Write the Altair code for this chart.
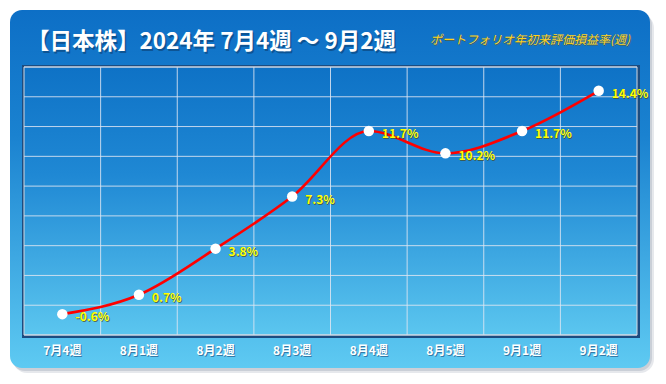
import altair as alt
import pandas as pd

# ---- data ----
categories = ["7月4週", "8月1週", "8月2週", "8月3週", "8月4週", "8月5週", "9月1週", "9月2週"]
values = [-0.6, 0.7, 3.8, 7.3, 11.7, 10.2, 11.7, 14.4]
labels = ["-0.6%", "0.7%", "3.8%", "7.3%", "11.7%", "10.2%", "11.7%", "14.4%"]
y_grid = [-2, 0, 2, 4, 6, 8, 10, 12, 14, 16]
x_grid = [0.5, 1.5, 2.5, 3.5, 4.5, 5.5, 6.5]
title_text = "【日本株】2024年 7月4週 ～ 9月2週"
subtitle_text = "ポートフォリオ年初来評価損益率(週)"

W, H = 613, 268
FONT = "Noto Sans CJK JP"

df = pd.DataFrame({"idx": list(range(len(categories))), "cat": categories,
                   "val": values, "lab": labels})
one = pd.DataFrame({"a": [0]})

xs = alt.Scale(domain=[-0.5, 7.5], nice=False, zero=False)
ys = alt.Scale(domain=[-2, 16], nice=False, zero=False)

card_grad = alt.Gradient(gradient="linear", x1=0, x2=0, y1=0, y2=1,
                         stops=[alt.GradientStop(color="#0d6fc6", offset=0),
                                alt.GradientStop(color="#1a82d0", offset=0.35),
                                alt.GradientStop(color="#5ecaf2", offset=1)])
plot_grad = alt.Gradient(gradient="linear", x1=0, x2=0, y1=0, y2=1,
                         stops=[alt.GradientStop(color="#0e72c6", offset=0),
                                alt.GradientStop(color="#1f88d4", offset=0.4),
                                alt.GradientStop(color="#5bc6ef", offset=1)])

def box(x, x2, y, y2, **kw):
    return alt.Chart(one).mark_rect(**kw).encode(
        x=alt.value(x), x2=alt.value(x2), y=alt.value(y), y2=alt.value(y2))

shadow1 = box(-11, 630, -53, 306, color="#9aa4b4", opacity=0.25, cornerRadius=14)
shadow2 = box(-12, 628, -55, 304, color="#8a94a4", opacity=0.3, cornerRadius=13)
card = box(-14, 626, -57, 301, color=card_grad, cornerRadius=12)
frame = box(-2, W + 3, -2, H + 3, color="#1b4c80")
plot_bg = box(0, W, 0, H, color=plot_grad)

hgrid = alt.Chart(pd.DataFrame({"g": y_grid})).mark_rule(
    color="#dfe6f2", strokeWidth=1, opacity=0.85).encode(
    y=alt.Y("g:Q", scale=ys, axis=None))
vgrid = alt.Chart(pd.DataFrame({"g": x_grid})).mark_rule(
    color="#dfe6f2", strokeWidth=1, opacity=0.85).encode(
    x=alt.X("g:Q", scale=xs, axis=None))
border = box(0, W, 0, H, fillOpacity=0, stroke="#d4d8e0", strokeWidth=1)

base = alt.Chart(df).encode(
    x=alt.X("idx:Q", scale=xs, axis=None),
    y=alt.Y("val:Q", scale=ys, axis=None))

line = base.mark_line(color="#ff0000", strokeWidth=2.6, interpolate="monotone")
pts = base.mark_circle(color="white", opacity=1, size=110)
lab_sh = base.mark_text(align="left", baseline="middle", dx=14, dy=4, font=FONT,
                        fontSize=12, fontWeight="bold", color="#4a4a20",
                        opacity=0.7).encode(text="lab:N")
lab = base.mark_text(align="left", baseline="middle", dx=13, dy=3, font=FONT,
                     fontSize=12, fontWeight="bold", color="#ffff00").encode(text="lab:N")

xl_base = alt.Chart(df).encode(x=alt.X("idx:Q", scale=xs, axis=None), text="cat:N")
xlab_sh = xl_base.mark_text(baseline="middle", font=FONT, fontSize=12, fontWeight="bold",
                            color="#1a4a78", opacity=0.6, dx=1, dy=1).encode(y=alt.value(284))
xlab = xl_base.mark_text(baseline="middle", font=FONT, fontSize=12, fontWeight="bold",
                         color="white").encode(y=alt.value(284))

title_sh = alt.Chart(one).mark_text(align="left", baseline="alphabetic", font=FONT,
                                    fontSize=22.5, fontWeight="bold", color="#0a3560",
                                    opacity=0.5, text=title_text).encode(
    x=alt.value(4.5), y=alt.value(-16.5))
title = alt.Chart(one).mark_text(align="left", baseline="alphabetic", font=FONT,
                                 fontSize=22.5, fontWeight="bold", color="white",
                                 text=title_text).encode(x=alt.value(3), y=alt.value(-18))
sub_sh = alt.Chart(one).mark_text(align="right", baseline="middle", font=FONT,
                                  fontSize=12, fontStyle="italic", color="#6a5a10",
                                  opacity=0.6, text=subtitle_text).encode(
    x=alt.value(607), y=alt.value(-26))
sub = alt.Chart(one).mark_text(align="right", baseline="middle", font=FONT,
                               fontSize=12, fontStyle="italic", color="#ffd21a",
                               text=subtitle_text).encode(x=alt.value(606), y=alt.value(-27))

chart = alt.layer(shadow1, shadow2, card, frame, plot_bg, hgrid, vgrid, border,
                  line, pts, lab_sh, lab, xlab_sh, xlab, title_sh, title, sub_sh, sub).properties(
    width=W, height=H,
    autosize=alt.AutoSizeParams(type="none"),
    padding={"left": 16, "top": 59, "right": 21, "bottom": 41},
).configure_view(stroke=None).configure(background="white")

chart.save("out.html", embed_options={"renderer": "svg", "actions": False})
